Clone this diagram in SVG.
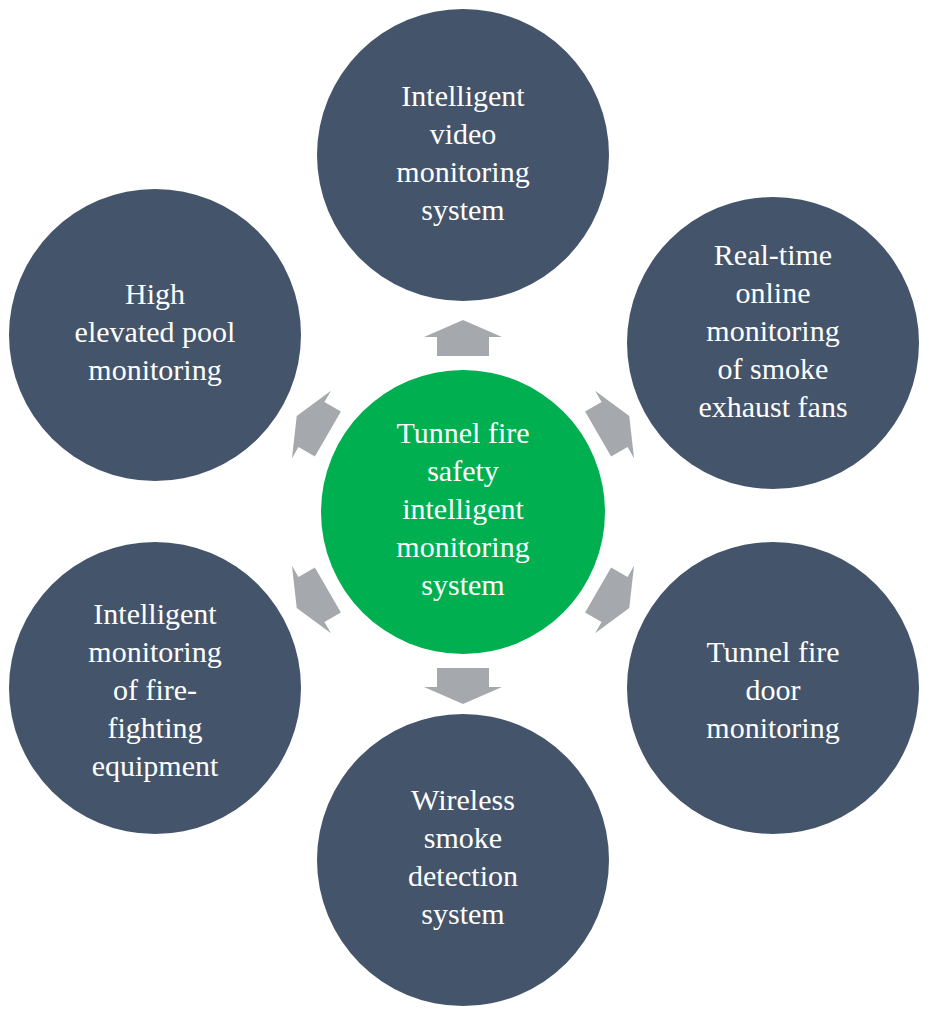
<svg xmlns="http://www.w3.org/2000/svg" width="930" height="1014" viewBox="0 0 930 1014">
<style>
.n{fill:#44546a}
.c{fill:#00b050}
.t{font-family:"Liberation Serif",serif;font-size:30px;fill:#fff;text-anchor:middle}
.a{fill:#a5a9ae}
</style>
<defs><path id="arr" d="M0,-18 L39,-1 L26,-1 L26,18 L-26,18 L-26,-1 L-39,-1 Z"/></defs>
<rect width="930" height="1014" fill="#fff"/>
<g id="connectors">
<use href="#arr" class="a" transform="translate(463,512) rotate(0) translate(0,-174)"/>
<use href="#arr" class="a" transform="translate(463,512) rotate(60) translate(0,-174)"/>
<use href="#arr" class="a" transform="translate(463,512) rotate(120) translate(0,-174)"/>
<use href="#arr" class="a" transform="translate(463,512) rotate(180) translate(0,-174)"/>
<use href="#arr" class="a" transform="translate(463,512) rotate(240) translate(0,-174)"/>
<use href="#arr" class="a" transform="translate(463,512) rotate(300) translate(0,-174)"/>
</g>
<g id="center"><circle class="c" cx="463" cy="512" r="142"/>
<text class="t"><tspan x="463" y="443">Tunnel fire</tspan><tspan x="463" y="481">safety</tspan><tspan x="463" y="519">intelligent</tspan><tspan x="463" y="557">monitoring</tspan><tspan x="463" y="595">system</tspan></text></g>
<g id="top"><circle class="n" cx="463" cy="155" r="146"/>
<text class="t"><tspan x="463" y="106">Intelligent</tspan><tspan x="463" y="144">video</tspan><tspan x="463" y="182">monitoring</tspan><tspan x="463" y="220">system</tspan></text></g>
<g id="upright"><circle class="n" cx="773" cy="343" r="146"/>
<text class="t"><tspan x="773" y="265">Real-time</tspan><tspan x="773" y="303">online</tspan><tspan x="773" y="341">monitoring</tspan><tspan x="773" y="379">of smoke</tspan><tspan x="773" y="417">exhaust fans</tspan></text></g>
<g id="downright"><circle class="n" cx="773" cy="688" r="146"/>
<text class="t"><tspan x="773" y="662">Tunnel fire</tspan><tspan x="773" y="700">door</tspan><tspan x="773" y="738">monitoring</tspan></text></g>
<g id="bottom"><circle class="n" cx="463" cy="860" r="146"/>
<text class="t"><tspan x="463" y="810">Wireless</tspan><tspan x="463" y="848">smoke</tspan><tspan x="463" y="886">detection</tspan><tspan x="463" y="924">system</tspan></text></g>
<g id="downleft"><circle class="n" cx="155" cy="688" r="146"/>
<text class="t"><tspan x="155" y="624">Intelligent</tspan><tspan x="155" y="662">monitoring</tspan><tspan x="155" y="700">of fire-</tspan><tspan x="155" y="738">fighting</tspan><tspan x="155" y="776">equipment</tspan></text></g>
<g id="upleft"><circle class="n" cx="155" cy="335" r="146"/>
<text class="t"><tspan x="155" y="304">High</tspan><tspan x="155" y="342">elevated pool</tspan><tspan x="155" y="380">monitoring</tspan></text></g>
</svg>
